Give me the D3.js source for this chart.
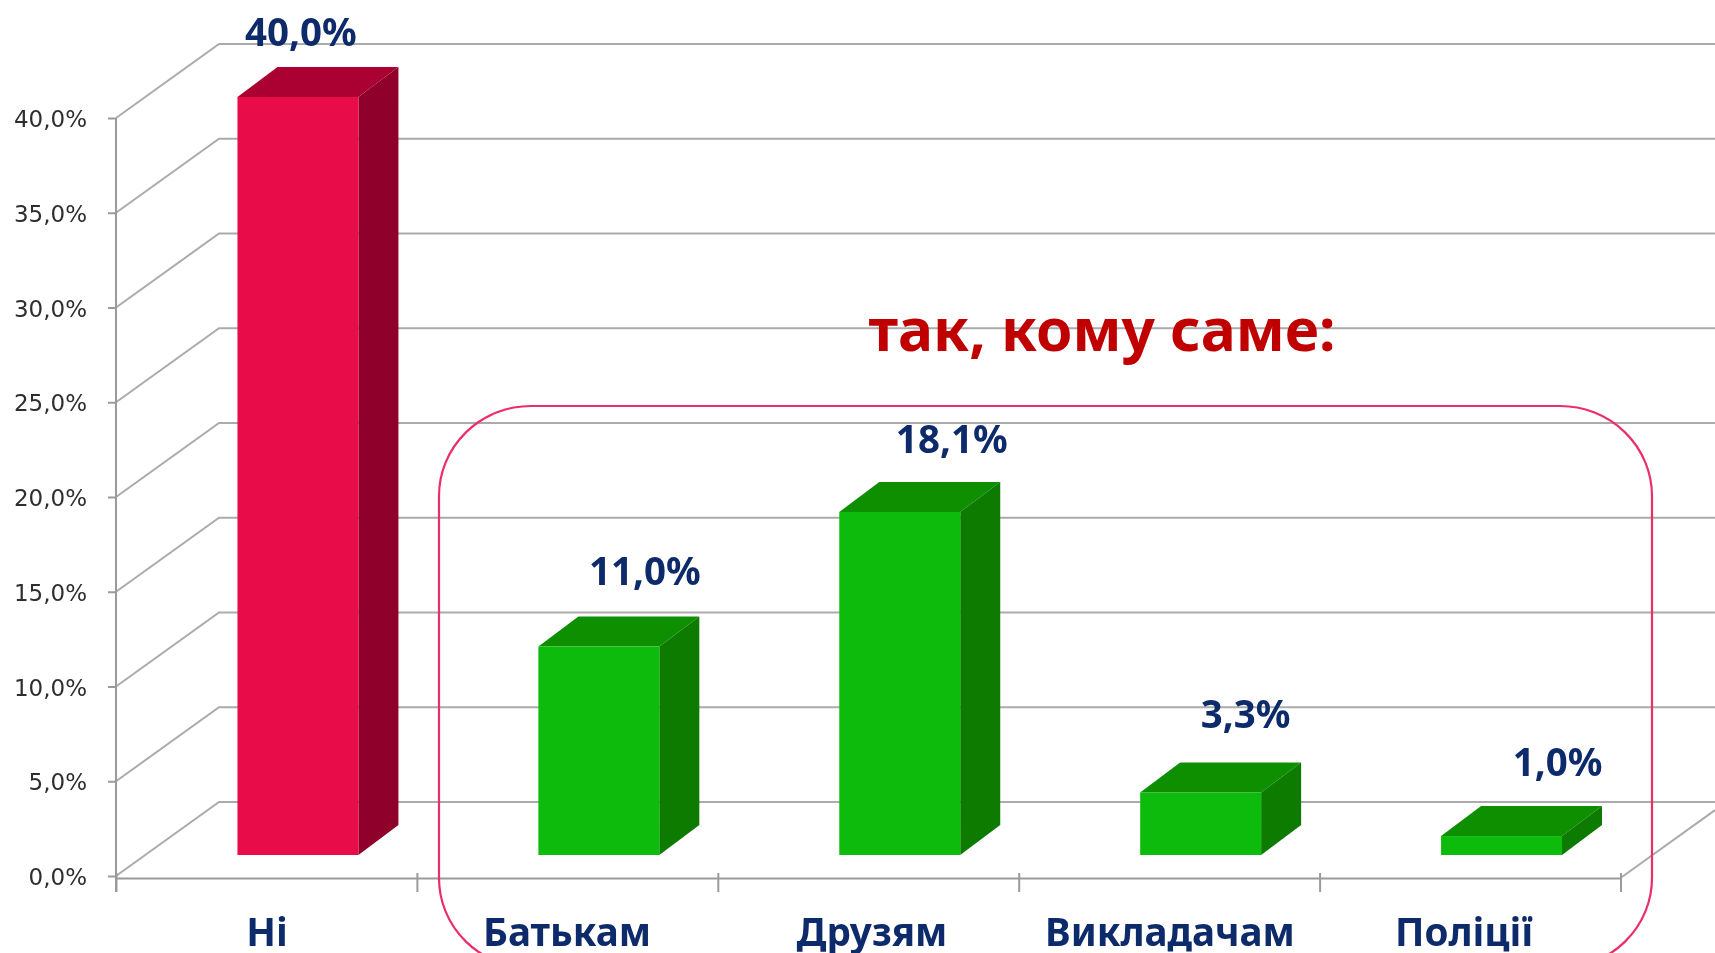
<!DOCTYPE html>
<html><head><meta charset="utf-8">
<script src="https://cdn.jsdelivr.net/npm/d3@7/dist/d3.min.js"></script>
<style>html,body{margin:0;padding:0;background:#fff;overflow:hidden}svg{display:block}</style>
</head><body><svg id="c" width="1715" height="953"></svg>
<script>
const categories = ["Ні", "Батькам", "Друзям", "Викладачам", "Поліції"];
const values = [40.0, 11.0, 18.1, 3.3, 1.0];
const valueLabels = ["40,0%", "11,0%", "18,1%", "3,3%", "1,0%"];
const yTicks = [0, 5, 10, 15, 20, 25, 30, 35, 40];
const calloutTitle = "так, кому саме:";

// layout
const W = 1715, H = 953;
const plot = {left: 116, right: 1620.5, top: 118, bottom: 876};
const axisDrop = 2;
const depth = {dx: 103, dy: -74};
const barShift = {dx: 31.5, dy: -21};
const barDepth = {dx: 40, dy: -30};
const labelNudge = [{x: 3, y: -51}, {x: 46, y: -62}, {x: 52, y: -59}, {x: 45, y: -64}, {x: 56, y: -60}];
const palette = {
  no: {front: "#E8094A", top: "#AB0031", side: "#8F002C"},
  yes: {front: "#10BB08", top: "#0F8F06", side: "#0B7A03"}
};
const GRID = "#ABABAB", AXIS = "#9A9A9A", NAVY = "#0B2A6B";

const defs = d3.select("#c").append("defs");
defs.append("filter").attr("id", "soft").attr("x", 0).attr("y", 0).attr("filterUnits", "userSpaceOnUse")
  .attr("width", W).attr("height", H)
  .append("feGaussianBlur").attr("stdDeviation", 0.5);
const svg = d3.select("#c").append("g").attr("filter", "url(#soft)");
svg.append("rect").attr("width", W).attr("height", H).attr("fill", "#fff");

const y = d3.scaleLinear().domain([0, 40]).range([plot.bottom, plot.top]);
const x = d3.scaleBand().domain(categories).range([plot.left, plot.right]).paddingInner(0.598).paddingOuter(0.299);
const edge = d3.scaleLinear().domain([0, categories.length]).range([plot.left, plot.right]);
const decimalComma = d3.formatLocale({decimal: ",", thousands: " ", grouping: [3], currency: ["", ""]});
const pct = v => decimalComma.format(".1f")(v) + "%";

// walls and gridlines
const grid = svg.append("g").attr("fill", "none").attr("stroke", GRID).attr("stroke-width", 2);
grid.selectAll("path.g").data(yTicks).join("path").attr("class", "g")
  .attr("d", t => d3.line()([[plot.left, y(t)], [plot.left + depth.dx, y(t) + depth.dy], [W, y(t) + depth.dy]]));
grid.append("path")
  .attr("d", d3.line()([[plot.right, plot.bottom + axisDrop], [W, plot.bottom + axisDrop + (W - plot.right) * depth.dy / depth.dx]]));

// axes
const yAxis = svg.append("g").attr("transform", `translate(${plot.left},0)`)
  .call(d3.axisLeft(y).tickValues(yTicks).tickFormat(pct).tickSize(8).tickPadding(21));
yAxis.select(".domain").remove();
yAxis.selectAll("line").attr("stroke", AXIS).attr("stroke-width", 2);
yAxis.selectAll("text").attr("font-family", "'DejaVu Sans'").attr("font-size", 23)
  .attr("fill", "#2E2E2E").attr("dy", "0.37em");
svg.append("line").attr("x1", plot.left).attr("x2", plot.left).attr("y1", y(40)).attr("y2", plot.bottom + 16)
  .attr("stroke", AXIS).attr("stroke-width", 2);

const xAxis = svg.append("g").attr("transform", `translate(0,${plot.bottom + axisDrop})`)
  .call(d3.axisBottom(edge).ticks(categories.length).tickFormat("").tickSizeInner(14).tickSizeOuter(0));
xAxis.select(".domain").attr("stroke", AXIS).attr("stroke-width", 2);
xAxis.selectAll("line").attr("y1", -5).attr("stroke", AXIS).attr("stroke-width", 2);

// callout title (behind bars, over gridlines)
svg.append("text").attr("x", 1102).attr("y", 351).attr("text-anchor", "middle")
  .attr("font-family", "'Noto Sans'").attr("font-weight", 700).attr("font-size", 58.6)
  .attr("fill", "#C00000").text(calloutTitle);

// 3D bars
const bars = svg.append("g").selectAll("g").data(categories).join("g");
const geom = (c, i) => {
  const x0 = x(c) + barShift.dx, w = x.bandwidth();
  const base = y(0) + barShift.dy, top = y(values[i]) + barShift.dy;
  return {x0, x1: x0 + w, base, top};
};
const tone = i => i === 0 ? palette.no : palette.yes;
bars.append("path").attr("fill", (c, i) => tone(i).top).attr("d", (c, i) => {
  const g = geom(c, i);
  return d3.line()([[g.x0, g.top], [g.x1, g.top], [g.x1 + barDepth.dx, g.top + barDepth.dy], [g.x0 + barDepth.dx, g.top + barDepth.dy]]) + "Z";
});
bars.append("path").attr("fill", (c, i) => tone(i).side).attr("d", (c, i) => {
  const g = geom(c, i);
  return d3.line()([[g.x1, g.top], [g.x1 + barDepth.dx, g.top + barDepth.dy], [g.x1 + barDepth.dx, g.base + barDepth.dy], [g.x1, g.base]]) + "Z";
});
bars.append("rect").attr("fill", (c, i) => tone(i).front)
  .attr("x", (c, i) => geom(c, i).x0).attr("y", (c, i) => geom(c, i).top)
  .attr("width", x.bandwidth()).attr("height", (c, i) => geom(c, i).base - geom(c, i).top);

// value labels
svg.append("g").selectAll("text").data(valueLabels).join("text")
  .attr("x", (d, i) => geom(categories[i], i).x0 + x.bandwidth() / 2 + labelNudge[i].x)
  .attr("y", (d, i) => geom(categories[i], i).top + labelNudge[i].y)
  .attr("text-anchor", "middle").attr("font-family", "'Noto Sans'").attr("font-weight", 700)
  .attr("font-size", 38.5).attr("fill", NAVY).text(d => d);

// category labels
const catCentre = [267, 567, 872, 1170, 1464];
svg.append("g").selectAll("text").data(categories).join("text")
  .attr("x", (d, i) => catCentre[i]).attr("y", 946).attr("text-anchor", "middle")
  .attr("font-family", "'Noto Sans'").attr("font-weight", 700).attr("font-size", 38.6)
  .attr("fill", NAVY).text(d => d);

// callout frame
svg.append("rect").attr("x", 439).attr("y", 406).attr("width", 1213).attr("height", 562)
  .attr("rx", 92).attr("ry", 90).attr("fill", "none").attr("stroke", "#EC2E68").attr("stroke-width", 2.2);
</script></body></html>
